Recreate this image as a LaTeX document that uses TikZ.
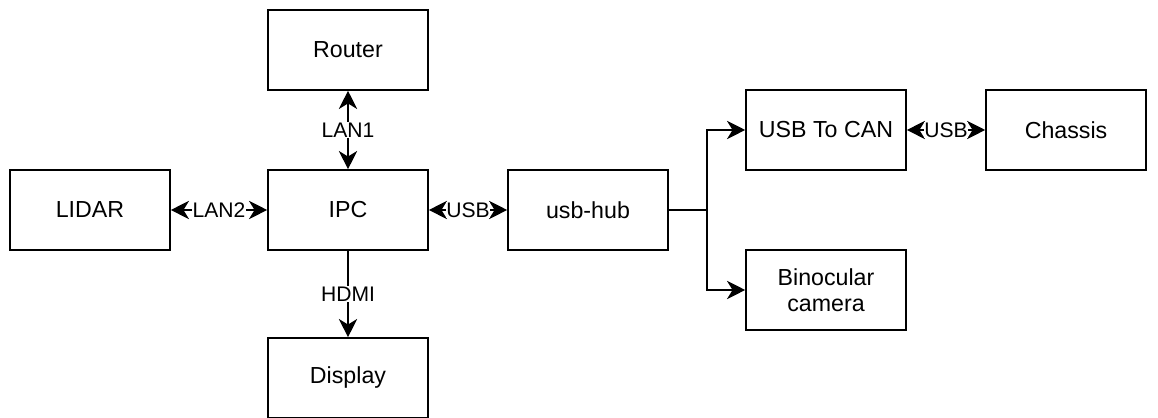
\documentclass[tikz,border=0pt]{standalone}
\usepackage{fontspec}
\setmainfont{Liberation Sans}
\usetikzlibrary{arrows.meta,positioning}
\begin{document}
\begin{tikzpicture}[align=center,
		box/.style={draw, line width=1.1pt, minimum height=2cm, minimum width=4cm, font=\fontsize{16.5}{18.5}\selectfont},
		arr/.style={line width=1.1pt, -{Stealth[length=13pt, width=13pt, inset=4pt]}},
		darr/.style={line width=1.1pt, {Stealth[length=13pt, width=13pt, inset=4pt]}-{Stealth[length=13pt, width=13pt, inset=4pt]}},
		lbl/.style={midway, fill=white, inner sep=0.5pt, font=\fontsize{15}{17}\selectfont}]
		
		\useasboundingbox (0,0) rectangle (28.95,10.45);
		
		\node[box] (router) at (8.7,9.2) {Router};
		\node[box] (ipc) at (8.7,5.2) {IPC};
		\node[box] (lidar) at (2.25,5.2) {LIDAR};
		\node[box] (display) at (8.7,1.0) {Display};
		\node[box] (hub) at (14.7,5.2) {usb-hub};
		\node[box] (can) at (20.65,7.2) {USB To CAN};
		\node[box] (chassis) at (26.65,7.2) {Chassis};
		\node[box] (camera) at (20.65,3.2) {Binocular\\camera};
		
		\coordinate[right=0.95cm of hub.east] (split);
		
		\draw[darr] (router) -- (ipc) node[lbl] {LAN1};
		\draw[darr] (lidar) -- (ipc) node[lbl] {LAN2};
		\draw[arr] (ipc) -- (display) node[lbl] {HDMI};
		\draw[darr] (ipc) -- (hub) node[lbl] {USB};
		\draw[darr] (can) -- (chassis) node[lbl] {USB};
		\draw[line width=1.1pt] (hub.east) -- (split);
		\draw[arr] (split) |- (can.west);
		\draw[arr] (split) |- (camera.west);
	\end{tikzpicture}
\end{document}
